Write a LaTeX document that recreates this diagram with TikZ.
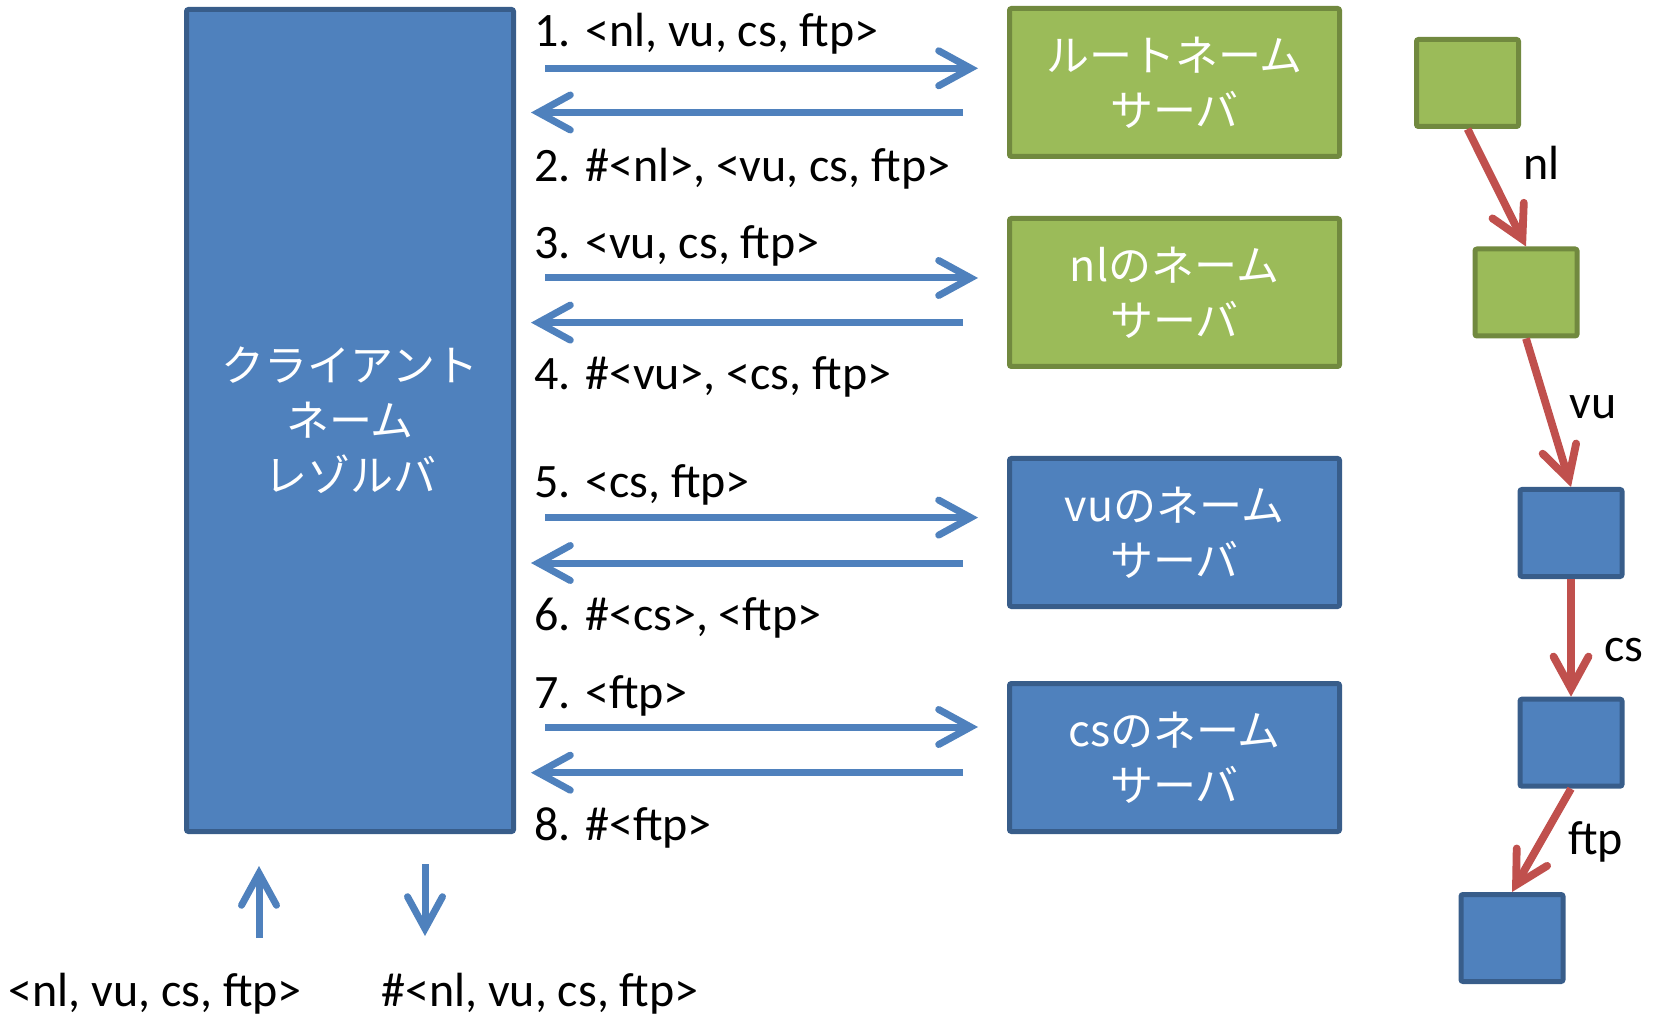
\documentclass[tikz,border=0pt]{standalone}
\usepackage{fontspec}
\setmainfont{Carlito}
\newfontfamily\jpfont{Noto Sans CJK JP}
\usetikzlibrary{arrows.meta}

\definecolor{accblue}{HTML}{4F81BD}
\definecolor{accblueline}{HTML}{385D8A}
\definecolor{accgreen}{HTML}{9BBB59}
\definecolor{accgreenline}{HTML}{71893F}
\definecolor{accred}{HTML}{C0504D}

\begin{document}
\begin{tikzpicture}[x=0.5pt,y=-0.5pt]
	\tikzset{bluebox/.style={draw=accblueline,fill=accblue,line width=2.5pt,rounded corners=1pt,inner sep=0pt}}
	\tikzset{greenbox/.style={draw=accgreenline,fill=accgreen,line width=2.5pt,rounded corners=1pt,inner sep=0pt}}
	\tikzset{server/.style={minimum width=165pt,minimum height=74pt,text=white,align=center,font=\jpfont\fontsize{21.5}{27.5}\selectfont}}
	\tikzset{zone/.style={minimum width=51pt,minimum height=43.5pt}}
	\tikzset{msg/.style={draw=accblue,line width=3.5pt,-{Straight Barb[length=16pt,width=17.5pt,line cap=round]}}}
	\tikzset{deleg/.style={draw=accred,line width=3.9pt,-{Straight Barb[length=16pt,width=17.5pt,line cap=round]}}}
	\tikzset{lbl/.style={anchor=base west,inner sep=0pt,font=\fontsize{24}{28}\selectfont}}

	\useasboundingbox (0,0) rectangle (1653,1015);

	% resolver and the name servers
	\node[bluebox,server,minimum width=163.5pt,minimum height=411pt] (client) at (350,420.5) {クライアント\\ネーム\\レゾルバ};
	\node[greenbox,server] (root) at (1174.5,82.5) {ルートネーム\\サーバ};
	\node[greenbox,server] (nlsrv) at (1174.5,292.5) {nlのネーム\\サーバ};
	\node[bluebox,server] (vusrv) at (1174.5,532.5) {vuのネーム\\サーバ};
	\node[bluebox,server] (cssrv) at (1174.5,757.5) {csのネーム\\サーバ};

	\foreach \srv/\ya/\yb in {root/68.3/112.5, nlsrv/278/322.6, vusrv/517.6/563, cssrv/727/772.7} {
		\draw[msg,shorten <=14.5pt,shorten >=14.5pt] (client.east |- 0,\ya) -- (\srv.west |- 0,\ya);
		\draw[msg,shorten <=22pt,shorten >=7.5pt] (\srv.west |- 0,\yb) -- (client.east |- 0,\yb);
	}

	\node[lbl] (m1) at (534,46.7) {1. <nl, vu, cs, ftp>};
	\node[lbl] (m2) at (534,181.3) {2. \#<nl>, <vu, cs, ftp>};
	\node[lbl] (m3) at (534,258.3) {3. <vu, cs, ftp>};
	\node[lbl] (m4) at (534,390) {4. \#<vu>, <cs, ftp>};
	\node[lbl] (m5) at (534,497.6) {5. <cs, ftp>};
	\node[lbl] (m6) at (534,630.4) {6. \#<cs>, <ftp>};
	\node[lbl] (m7) at (534,708.4) {7. <ftp>};
	\node[lbl] (m8) at (534,840.2) {8. \#<ftp>};

	% query in, answer out
	\coordinate (qin) at (259,938);
	\coordinate (qout) at (425,936);
	\draw[msg,shorten >=16pt] (qin) -- (client.south -| qin);
	\draw[msg,shorten <=15pt] (client.south -| qout) -- (qout);
	\node[lbl] (qlbl) at (8,1006) {<nl, vu, cs, ftp>};
	\node[lbl] (albl) at (381,1006) {\#<nl, vu, cs, ftp>};

	% the name tree
	\node[greenbox,zone] (tA) at (1467.5,83) {};
	\node[greenbox,zone] (tB) at (1526,292.5) {};
	\node[bluebox,zone] (tC) at (1571,533) {};
	\node[bluebox,zone] (tD) at (1571,742.7) {};
	\node[bluebox,zone] (tE) at (1512,938) {};
	\draw[deleg] (tA.south) -- (tB.north);
	\draw[deleg] (tB.south) -- (tC.north);
	\draw[deleg] (tC.south) -- (tD.north);
	\draw[deleg] (tD.south) -- (tE.north);
	\node[lbl] (kNl) at (1523,180) {nl};
	\node[lbl] (kVu) at (1569,418.5) {vu};
	\node[lbl] (kCs) at (1604,661) {cs};
	\node[lbl] (kFtp) at (1568,854) {ftp};
\end{tikzpicture}
\end{document}
